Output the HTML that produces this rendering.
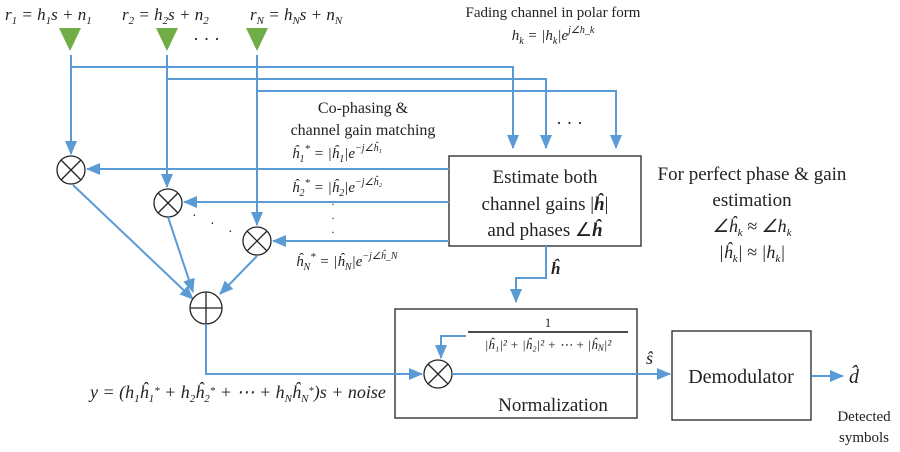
<!DOCTYPE html>
<html><head><meta charset="utf-8"><style>
html,body{margin:0;padding:0;background:#fff;}
svg{display:block;}
text{font-family:"Liberation Serif",serif;fill:#222;}
.m{font-style:italic;}
.b{stroke:#5b9bd5;stroke-width:2;fill:none;}
.k{stroke:#222;stroke-width:1.3;fill:#fff;}
.n{stroke:#222;stroke-width:1.3;fill:none;}
</style></head><body>
<svg width="900" height="452" viewBox="0 0 900 452">
<defs><marker id="ar2" markerWidth="14" markerHeight="12" refX="13" refY="6" orient="auto" markerUnits="userSpaceOnUse"><path d="M0,0 L14,6 L0,12 Z" fill="#5b9bd5"/></marker></defs>

<!-- antennas -->
<g><polygon points="59,28 81,28 70,51" fill="#70ad47"/></g>
<g><polygon points="156,28 178,28 167,51" fill="#70ad47"/></g>
<g><polygon points="246,28 268,28 257,51" fill="#70ad47"/></g>
<text x="5" y="20" font-size="17" class="m">r<tspan font-size="11" dy="4">1</tspan><tspan dy="-4"> = h</tspan><tspan font-size="11" dy="4">1</tspan><tspan dy="-4">s + n</tspan><tspan font-size="11" dy="4">1</tspan></text>
<text x="122" y="20" font-size="17" class="m">r<tspan font-size="11" dy="4">2</tspan><tspan dy="-4"> = h</tspan><tspan font-size="11" dy="4">2</tspan><tspan dy="-4">s + n</tspan><tspan font-size="11" dy="4">2</tspan></text>
<text x="250" y="20" font-size="17" class="m">r<tspan font-size="11" dy="4">N</tspan><tspan dy="-4"> = h</tspan><tspan font-size="11" dy="4">N</tspan><tspan dy="-4">s + n</tspan><tspan font-size="11" dy="4">N</tspan></text>
<text x="193" y="45" font-size="18">·   ·   ·</text>

<!-- feed lines to estimator -->
<path class="b" d="M71,55 V67 H513 V148" marker-end="url(#ar2)"/>
<path class="b" d="M167,55 V79 H546 V148" marker-end="url(#ar2)"/>
<path class="b" d="M257,55 V91 H616 V148" marker-end="url(#ar2)"/>
<text x="556" y="129" font-size="18">·   ·   ·</text>

<!-- antenna to multipliers -->
<path class="b" d="M71,67 V154" marker-end="url(#ar2)"/>
<path class="b" d="M167,79 V187" marker-end="url(#ar2)"/>
<path class="b" d="M257,91 V225" marker-end="url(#ar2)"/>

<!-- estimator box -->
<rect x="449" y="156" width="192" height="90" class="k"/>
<text x="545" y="183" font-size="19" text-anchor="middle">Estimate both</text>
<text x="545" y="210" font-size="19" text-anchor="middle">channel gains |<tspan font-weight="bold" class="m">ĥ</tspan>|</text>
<text x="545" y="236" font-size="19" text-anchor="middle">and phases ∠<tspan font-weight="bold" class="m">ĥ</tspan></text>

<!-- weights back to multipliers -->
<path class="b" d="M449,169 H87" marker-end="url(#ar2)"/>
<path class="b" d="M449,202 H184" marker-end="url(#ar2)"/>
<path class="b" d="M449,241 H273" marker-end="url(#ar2)"/>

<text x="363" y="113" font-size="16" text-anchor="middle">Co-phasing &amp;</text>
<text x="363" y="135" font-size="16" text-anchor="middle">channel gain matching</text>
<text x="292" y="158" font-size="15" class="m">ĥ<tspan font-size="10" dy="4">1</tspan><tspan font-size="11" dy="-10">*</tspan><tspan dy="6"> = |ĥ</tspan><tspan font-size="10" dy="4">1</tspan><tspan dy="-4">|e</tspan><tspan font-size="10" dy="-7">−j∠ĥ₁</tspan></text>
<text x="292" y="192" font-size="15" class="m">ĥ<tspan font-size="10" dy="4">2</tspan><tspan font-size="11" dy="-10">*</tspan><tspan dy="6"> = |ĥ</tspan><tspan font-size="10" dy="4">2</tspan><tspan dy="-4">|e</tspan><tspan font-size="10" dy="-7">−j∠ĥ₂</tspan></text>
<text x="331" y="208" font-size="12">·</text>
<text x="331" y="222" font-size="12">·</text>
<text x="331" y="236" font-size="12">·</text>
<text x="296" y="266" font-size="15" class="m">ĥ<tspan font-size="10" dy="4">N</tspan><tspan font-size="11" dy="-10">*</tspan><tspan dy="6"> = |ĥ</tspan><tspan font-size="10" dy="4">N</tspan><tspan dy="-4">|e</tspan><tspan font-size="10" dy="-7">−j∠ĥ_N</tspan></text>

<!-- multipliers -->
<g><circle cx="71" cy="170" r="14" class="k"/><path d="M61,160 L81,180 M81,160 L61,180" stroke="#222" stroke-width="1.3"/></g>
<g><circle cx="168" cy="203" r="14" class="k"/><path d="M158,193 L178,213 M178,193 L158,213" stroke="#222" stroke-width="1.3"/></g>
<g><circle cx="257" cy="241" r="14" class="k"/><path d="M247,231 L267,251 M267,231 L247,251" stroke="#222" stroke-width="1.3"/></g>
<text x="192" y="220" font-size="14">·</text>
<text x="210" y="228" font-size="14">·</text>
<text x="228" y="236" font-size="14">·</text>

<!-- to adder -->
<path class="b" d="M73,185 L193,299" marker-end="url(#ar2)"/>
<path class="b" d="M168,217 L193,292" marker-end="url(#ar2)"/>
<path class="b" d="M257,256 L220,294" marker-end="url(#ar2)"/>
<g><circle cx="206" cy="308" r="16" class="k"/><path d="M190,308 H222 M206,292 V324" stroke="#222" stroke-width="1.3"/></g>

<!-- normalization box (behind lines) -->
<rect x="395" y="309" width="242" height="109" class="n"/>
<path class="b" d="M206,324 V374 H422" marker-end="url(#ar2)"/>
<text x="90" y="398" font-size="18" class="m">y = (h<tspan font-size="11" dy="4">1</tspan><tspan dy="-4">ĥ</tspan><tspan font-size="11" dy="4">1</tspan><tspan font-size="11" dy="-8">*</tspan><tspan dy="4"> + h</tspan><tspan font-size="11" dy="4">2</tspan><tspan dy="-4">ĥ</tspan><tspan font-size="11" dy="4">2</tspan><tspan font-size="11" dy="-8">*</tspan><tspan dy="4"> + ⋯ + h</tspan><tspan font-size="11" dy="4">N</tspan><tspan dy="-4">ĥ</tspan><tspan font-size="11" dy="4">N</tspan><tspan font-size="11" dy="-8">*</tspan><tspan dy="4">)s + noise</tspan></text>

<!-- hhat to normalization -->
<path class="b" d="M546,246 V278 H516 V302" marker-end="url(#ar2)"/>
<text x="551" y="274" font-size="17" font-weight="bold" class="m">ĥ</text>

<text x="548" y="327" font-size="13" text-anchor="middle">1</text>
<line x1="468" y1="332" x2="628" y2="332" stroke="#111" stroke-width="1.5"/>
<text x="548" y="349" font-size="13" text-anchor="middle" class="m">|ĥ₁|² + |ĥ₂|² + ⋯ + |ĥ<tspan font-size="9" dy="2">N</tspan><tspan dy="-2">|²</tspan></text>
<path class="b" d="M466,336 H441 V358" marker-end="url(#ar2)"/>
<g><circle cx="438" cy="374" r="14" class="k"/><path d="M428,364 L448,384 M448,364 L428,384" stroke="#222" stroke-width="1.3"/></g>
<text x="553" y="411" font-size="19" text-anchor="middle">Normalization</text>
<path class="b" d="M452,374 H670" marker-end="url(#ar2)"/>
<text x="646" y="364" font-size="18" class="m">ŝ</text>

<!-- demodulator -->
<rect x="672" y="331" width="139" height="89" class="k"/>
<text x="741" y="383" font-size="20" text-anchor="middle">Demodulator</text>
<path class="b" d="M812,376 H843" marker-end="url(#ar2)"/>
<text x="849" y="383" font-size="20" class="m">d̂</text>
<text x="864" y="421" font-size="15" text-anchor="middle">Detected</text>
<text x="864" y="442" font-size="15" text-anchor="middle">symbols</text>

<!-- right notes -->
<text x="553" y="17" font-size="15" text-anchor="middle">Fading channel in polar form</text>
<text x="553" y="40" font-size="15" text-anchor="middle" class="m">h<tspan font-size="10" dy="4">k</tspan><tspan dy="-4"> = |h</tspan><tspan font-size="10" dy="4">k</tspan><tspan dy="-4">|e</tspan><tspan font-size="10" dy="-7">j∠h_k</tspan></text>
<text x="752" y="180" font-size="19" text-anchor="middle">For perfect phase &amp; gain</text>
<text x="752" y="206" font-size="19" text-anchor="middle">estimation</text>
<text x="752" y="232" font-size="18" text-anchor="middle" class="m">∠ĥ<tspan font-size="11" dy="4">k</tspan><tspan dy="-4">  ≈  ∠h</tspan><tspan font-size="11" dy="4">k</tspan></text>
<text x="752" y="258" font-size="18" text-anchor="middle" class="m">|ĥ<tspan font-size="11" dy="4">k</tspan><tspan dy="-4">| ≈ |h</tspan><tspan font-size="11" dy="4">k</tspan><tspan dy="-4">|</tspan></text>
</svg>
</body></html>
